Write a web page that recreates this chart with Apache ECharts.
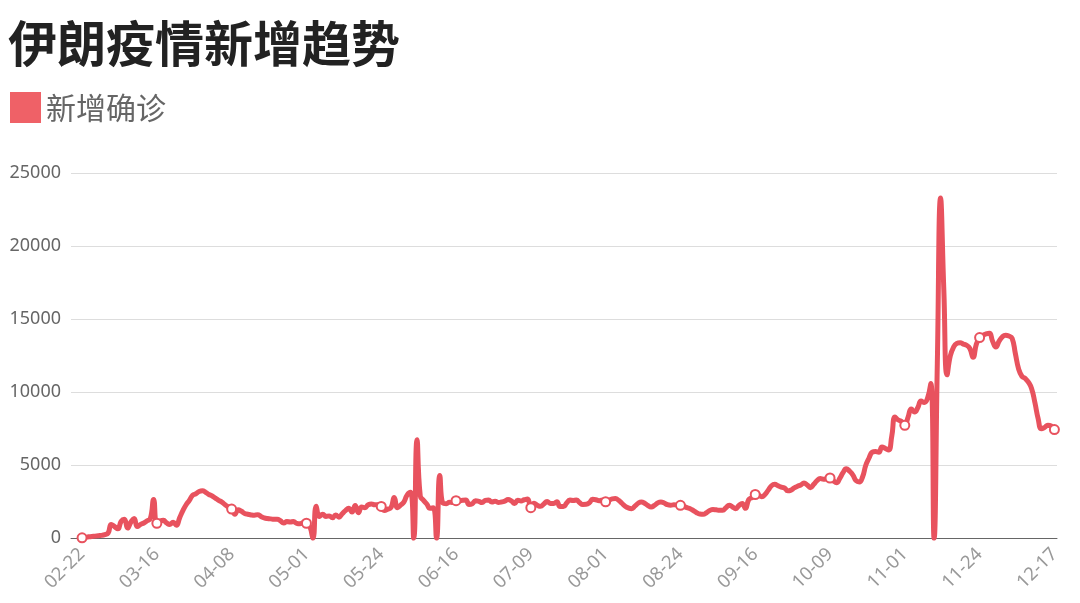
<!DOCTYPE html>
<html><head><meta charset="utf-8">
<script src="https://cdn.jsdelivr.net/npm/echarts@6/dist/echarts.min.js"></script>
<style>html,body{margin:0;padding:0;background:#fff}#c{width:1080px;height:603px}</style>
</head><body><div id="c"></div>
<script>
const titleText = '伊朗疫情新增趋势';
const seriesName = '新增确诊';
const tickLabels = ['02-22','03-16','04-08','05-01','05-24','06-16','07-09','08-01','08-24','09-16','10-09','11-01','11-24','12-17'];
const tickIndex = [0,23,46,69,92,115,138,161,184,207,230,253,276,299];
const newCases = [
  30, 60, 100, 130, 150, 180, 200, 250, 350, 950,
  800, 650, 1150, 1300, 700, 1100, 1350, 800, 950, 1050,
  1200, 1350, 2650, 1030, 1180, 1230, 1050, 950, 1100, 900,
  1400, 1900, 2300, 2600, 2950, 3050, 3200, 3250, 3150, 3000,
  2900, 2750, 2600, 2480, 2300, 2150, 2000, 1650, 1950, 1850,
  1700, 1650, 1600, 1580, 1620, 1500, 1400, 1350, 1330, 1300,
  1300, 1200, 1050, 1150, 1120, 1150, 1020, 990, 1070, 1030,
  850, 0, 2200, 1500, 1650, 1500, 1530, 1400, 1600, 1450,
  1680, 1900, 2050, 1800, 2250, 1750, 2150, 2100, 2300, 2350,
  2300, 2300, 2180, 1900, 2000, 2100, 2800, 2100, 2280, 2500,
  2980, 3150, 0, 6750, 2900, 2600, 2350, 2050, 2100, 0,
  4300, 2400, 2370, 2470, 2450, 2580, 2560, 2600, 2620, 2320,
  2370, 2570, 2530, 2450, 2600, 2630, 2490, 2540, 2460, 2490,
  2550, 2650, 2560, 2390, 2610, 2560, 2640, 2690, 2100, 2400,
  2260, 2190, 2350, 2520, 2390, 2380, 2500, 2170, 2170, 2410,
  2620, 2590, 2620, 2440, 2320, 2330, 2430, 2670, 2640, 2570,
  2620, 2500, 2600, 2700, 2720, 2600, 2400, 2200, 2080, 2030,
  2200, 2400, 2490, 2400, 2250, 2150, 2250, 2420, 2490, 2420,
  2300, 2260, 2300, 2280, 2260, 2200, 2100, 2030, 1900, 1750,
  1660, 1640, 1750, 1900, 1970, 1950, 1920, 1920, 2100, 2260,
  2150, 2030, 2250, 2380, 2050, 2650, 2800, 3000, 2950, 2850,
  3000, 3300, 3600, 3700, 3600, 3500, 3450, 3250, 3300, 3450,
  3560, 3650, 3790, 3650, 3470, 3700, 3950, 4090, 4050, 4080,
  4130, 3950, 3800, 4100, 4500, 4770, 4600, 4350, 3950, 3860,
  4200, 5000, 5500, 5900, 5950, 5900, 6250, 6150, 6050, 7000,
  8300, 8100, 8000, 7740, 8300, 8850, 8650, 8950, 9400, 9300,
  9600, 10600, 0, 12000, 23300, 17000, 11200, 12500, 13100, 13350,
  13400, 13300, 13220, 13000, 12400, 13300, 13750, 13900, 14000, 14050,
  13500, 13100, 13500, 13800, 13900, 13850, 13700, 12650, 11600, 11100,
  10950, 10700, 10250, 9300, 8200, 7500, 7600, 7750, 7700, 7450
];

const chart = echarts.init(document.getElementById('c'), null, {renderer: 'canvas'});
const tickSet = new Set(tickIndex);
const labelByIdx = {};
tickIndex.forEach((t, k) => { labelByIdx[t] = tickLabels[k]; });
const points = newCases.map((v, i) => ({
  value: [i, v],
  symbol: tickSet.has(i) ? 'emptyCircle' : 'none'
}));
const lineColor = '#e8525e';
const option = {
  animation: false,
  textStyle: {fontFamily: 'Noto Sans, Noto Sans CJK SC'},
  title: {
    text: titleText, left: 3, top: 14,
    textStyle: {fontSize: 49, fontWeight: 'bold', color: '#222', fontFamily: 'Noto Sans CJK SC'}
  },
  legend: {
    left: 5, top: 87, itemWidth: 31, itemHeight: 31, icon: 'rect',
    textStyle: {fontSize: 30, color: '#666', fontFamily: 'Noto Sans CJK SC'},
    data: [{name: seriesName, itemStyle: {color: '#ef6167'}}]
  },
  grid: {left: 71, right: 23, top: 173.3, bottom: 64.7},
  xAxis: {
    type: 'value', min: -3.4, max: 299.8,
    splitLine: {show: false},
    axisLine: {lineStyle: {color: '#666', width: 1}},
    axisTick: {show: false},
    axisLabel: {
      customValues: tickIndex, rotate: 45, color: '#999', fontSize: 18.5, margin: 13,
      formatter: v => labelByIdx[v] || ''
    }
  },
  yAxis: {
    type: 'value', min: 0, max: 25000, interval: 5000,
    axisLine: {show: false}, axisTick: {show: false},
    splitLine: {lineStyle: {color: '#ddd'}},
    axisLabel: {color: '#666', fontSize: 18, margin: 10, formatter: v => String(v)}
  },
  series: [{
    name: seriesName, type: 'line', data: points, smooth: true,
    showSymbol: true, symbolSize: 9,
    lineStyle: {width: 5, color: lineColor},
    itemStyle: {color: lineColor, borderWidth: 1.2}
  }]
};
chart.setOption(option);
</script></body></html>
